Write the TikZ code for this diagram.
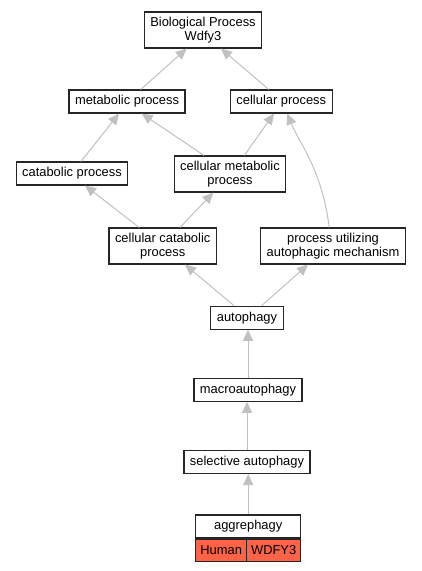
\documentclass[tikz,border=0pt]{standalone}
\usepackage{fontspec}
\setmainfont{Liberation Sans}
\usepackage{xcolor}
\usepackage{tikz}
\usetikzlibrary{arrows.meta, positioning, calc}

\definecolor{edgegray}{HTML}{C0C0C0}
\definecolor{genered}{HTML}{FF6347}

\begin{document}
\begin{tikzpicture}[x=1pt, y=-1pt,
            term/.style={rectangle, draw=black!85, line width=1.1pt, fill=white,
            inner xsep=6pt, inner ysep=5pt, minimum height=23pt, align=center,
            font=\fontsize{12.9}{14}\selectfont},
            gene/.style={rectangle, draw=black!85, line width=1.1pt, fill=genered,
            inner sep=0pt, minimum height=22pt, align=center,
            font=\fontsize{12.9}{14}\selectfont},
            isa/.style={-{Triangle[length=11pt, width=10pt]}, line width=1pt, edgegray}
        ]
            \useasboundingbox (0,0) rectangle (421,571);

            % GO terms, top to bottom
            \node[term] (bp)       at (203,30)    {Biological Process\\Wdfy3};
            \node[term] (metab)    at (127,101.5) {metabolic process};
            \node[term] (cellular) at (281.3,101.5) {cellular process};
            \node[term] (catab)    at (72,173.5)  {catabolic process};
            \node[term] (cellmeta) at (230,174)   {cellular metabolic\\process};
            \node[term] (cellcat)  at (162.7,246) {cellular catabolic\\process};
            \node[term] (procutil) at (333,246)   {process utilizing\\autophagic mechanism};
            \node[term] (autoph)   at (247,317.7) {autophagy};
            \node[term] (macro)    at (248,389.7) {macroautophagy};
            \node[term] (select)   at (247,462)   {selective autophagy};

            % annotated term with gene cells
            \node[term, minimum width=105pt, inner sep=0pt] (aggre) at (248.2,526.5) {aggrephagy};
            \node[gene, anchor=north west, minimum width=51pt] (human) at (aggre.south west) {Human};
            \node[gene, anchor=north east, minimum width=54pt] (wdfy)  at (aggre.south east) {WDFY3};

            % is_a edges (child -> parent)
            \draw[isa] ([xshift=13.7pt]metab.north)     -- ([xshift=-16.3pt]bp.south);
            \draw[isa] ([xshift=-12.6pt]cellular.north) -- ([xshift=18pt]bp.south);
            \draw[isa] ([xshift=9pt]catab.north)        -- ([xshift=-8pt]metab.south);
            \draw[isa] ([xshift=-26pt]cellmeta.north)   -- ([xshift=14.7pt]metab.south);
            \draw[isa] ([xshift=14.3pt]cellmeta.north)  -- ([xshift=-7.3pt]cellular.south);
            \draw[isa] ([xshift=-3.7pt]procutil.north)  .. controls +(-8,-60) and +(12,30) .. ([xshift=6pt]cellular.south);
            \draw[isa] ([xshift=-23.4pt]cellcat.north)  -- ([xshift=13pt]catab.south);
            \draw[isa] ([xshift=17.3pt]cellcat.north)   -- ([xshift=-16.7pt]cellmeta.south);
            \draw[isa] ([xshift=-13pt]autoph.north)     -- ([xshift=22.3pt]cellcat.south);
            \draw[isa] ([xshift=14.7pt]autoph.north)    -- ([xshift=-25pt]procutil.south);
            \draw[isa] (macro.north)  -- (macro.north |- autoph.south);
            \draw[isa] (select.north) -- (select.north |- macro.south);
            \draw[isa] (aggre.north)  -- (aggre.north |- select.south);

        \end{tikzpicture}
\end{document}
